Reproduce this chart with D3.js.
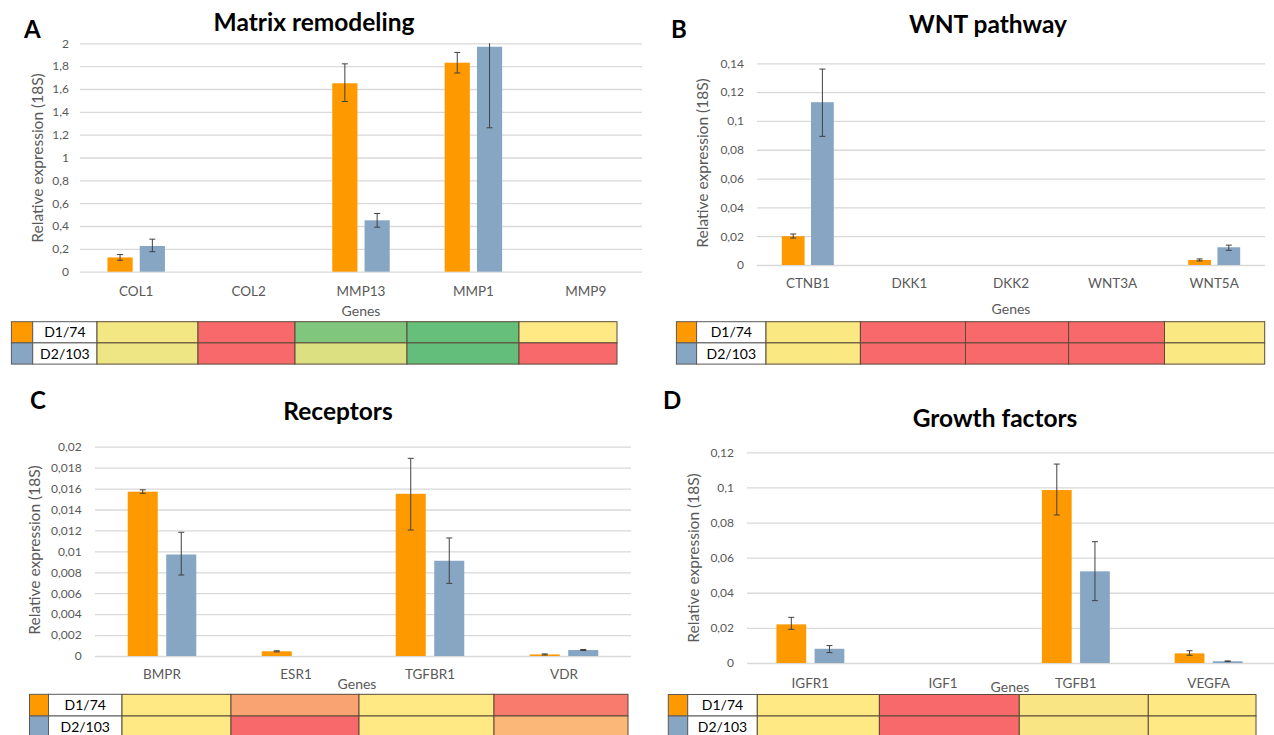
<!DOCTYPE html>
<html><head><meta charset="utf-8">
<script src="https://cdn.jsdelivr.net/npm/d3@7"></script>
<style>
body{margin:0;background:#fff}
svg{display:block}
text{font-family:Lato,"Open Sans",sans-serif}
</style>
</head><body>
<svg id="chart" width="1274" height="735"></svg>
<script>
// ---------- shared ----------
const seriesNames = ["D1/74", "D2/103"];
const seriesColors = ["#FF9900", "#87A6C3"];
const yTitleText = "Relative expression (18S)";
const xTitleText = "Genes";

// ---------- A: Matrix remodeling ----------
const titleA = "Matrix remodeling";
const genesA = ["COL1", "COL2", "MMP13", "MMP1", "MMP9"];
const d1A = [0.125, 0, 1.65, 1.83, 0];
const d2A = [0.225, 0, 0.45, 1.97, 0];
const d1ErrA = [[0.10, 0.15], null, [1.49, 1.82], [1.74, 1.92], null];
const d2ErrA = [[0.175, 0.285], null, [0.39, 0.51], [1.26, 2.02], null];
const ticksA = [0, 0.2, 0.4, 0.6, 0.8, 1, 1.2, 1.4, 1.6, 1.8, 2];
const heatA1 = ["#F2E783", "#F8696B", "#80C77D", "#66BF7A", "#FFE984"];
const heatA2 = ["#EEE584", "#F8696B", "#DCE081", "#63BE7B", "#F8696B"];

// ---------- B: WNT pathway ----------
const titleB = "WNT pathway";
const genesB = ["CTNB1", "DKK1", "DKK2", "WNT3A", "WNT5A"];
const d1B = [0.020, 0, 0, 0, 0.0035];
const d2B = [0.113, 0, 0, 0, 0.0123];
const d1ErrB = [[0.0187, 0.0215], null, null, null, [0.0028, 0.0042]];
const d2ErrB = [[0.0893, 0.136], null, null, null, [0.0102, 0.0138]];
const ticksB = [0, 0.02, 0.04, 0.06, 0.08, 0.1, 0.12, 0.14];
const heatB1 = ["#FAE983", "#F8696B", "#F8696B", "#F8696B", "#FAE983"];
const heatB2 = ["#FAE983", "#F8696B", "#F8696B", "#F8696B", "#FAE983"];

// ---------- C: Receptors ----------
const titleC = "Receptors";
const genesC = ["BMPR", "ESR1", "TGFBR1", "VDR"];
const d1C = [0.0157, 0.00045, 0.0155, 0.00015];
const d2C = [0.0097, 0, 0.0091, 0.00057];
const d1ErrC = [[0.01555, 0.01588], [0.0004, 0.0005], [0.01204, 0.01889], [0.0001, 0.0002]];
const d2ErrC = [[0.00774, 0.01182], null, [0.00694, 0.01128], [0.00052, 0.00062]];
const ticksC = [0, 0.002, 0.004, 0.006, 0.008, 0.01, 0.012, 0.014, 0.016, 0.018, 0.02];
const heatC1 = ["#FFE984", "#F9A373", "#FFE984", "#F87B6E"];
const heatC2 = ["#FFE984", "#F8696B", "#FFE984", "#FBB778"];

// ---------- D: Growth factors ----------
const titleD = "Growth factors";
const genesD = ["IGFR1", "IGF1", "TGFB1", "VEGFA"];
const d1D = [0.022, 0, 0.0985, 0.0055];
const d2D = [0.0081, 0, 0.0522, 0.001];
const d1ErrD = [[0.0192, 0.026], null, [0.0843, 0.1133], [0.0044, 0.007]];
const d2ErrD = [[0.0059, 0.0099], null, [0.0355, 0.0691], [0.0008, 0.0012]];
const ticksD = [0, 0.02, 0.04, 0.06, 0.08, 0.1, 0.12];
const heatD1 = ["#FFE984", "#F8696B", "#F9E583", "#FDE884"];
const heatD2 = ["#FFE984", "#F8696B", "#F9E583", "#FFE984"];

// ---------- layout (positions only) ----------
const layout = {
  A: {letter: "A", letterXY: [24, 29], titleXY: [314, 22], xRange: [80, 642], yRange: [271.7, 43.3],
      gridX: [80, 642], tickX: 69, yTitleXY: [37.5, 158], labelY: 291, genesXY: [361, 311],
      tableX: [11.4, 32.7, 97, 198, 295, 407, 519, 617], tableY: 321.7, rowH: 21.2},
  B: {letter: "B", letterXY: [671, 29.5], titleXY: [988, 24], xRange: [757, 1265], yRange: [265, 63.3],
      gridX: [757, 1265], tickX: 744, yTitleXY: [702.7, 163], labelY: 283.3, genesXY: [1011, 309],
      tableX: [676.4, 696.6, 766, 860.4, 965.5, 1068.6, 1164.5, 1264.7], tableY: 321.7, rowH: 21.2},
  C: {letter: "C", letterXY: [30, 400], titleXY: [338, 411.7], xRange: [95, 631], yRange: [656, 446.7],
      gridX: [95, 631], tickX: 81.6, yTitleXY: [34.7, 550], labelY: 674.3, genesXY: [357, 684],
      tableX: [29.5, 48.5, 122, 231, 359, 494, 628], tableY: 694.3, rowH: 21.7},
  D: {letter: "D", letterXY: [663, 400], titleXY: [995, 418.3], xRange: [744, 1275], yRange: [663, 452.3],
      gridX: [747, 1274], tickX: 734, yTitleXY: [693.4, 558], labelY: 683, genesXY: [1010, 687],
      tableX: [668.3, 687.7, 757.3, 879.4, 1019.3, 1148.3, 1256], tableY: 694.5, rowH: 21.5}
};

const panels = [
  {key: "A", title: titleA, genes: genesA, vals: [d1A, d2A], errs: [d1ErrA, d2ErrA], ticks: ticksA, heat: [heatA1, heatA2]},
  {key: "B", title: titleB, genes: genesB, vals: [d1B, d2B], errs: [d1ErrB, d2ErrB], ticks: ticksB, heat: [heatB1, heatB2]},
  {key: "C", title: titleC, genes: genesC, vals: [d1C, d2C], errs: [d1ErrC, d2ErrC], ticks: ticksC, heat: [heatC1, heatC2]},
  {key: "D", title: titleD, genes: genesD, vals: [d1D, d2D], errs: [d1ErrD, d2ErrD], ticks: ticksD, heat: [heatD1, heatD2]}
];

const svg = d3.select("#chart");
svg.append("rect").attr("width", 1274).attr("height", 735).attr("fill", "#fff");
const fmt = v => String(v).replace(".", ",");
const gray = "#595959";

panels.forEach((p, pi) => {
  const L = layout[p.key];
  const g = svg.append("g");
  const x = d3.scaleBand().domain(p.genes).range(L.xRange);
  const xs = d3.scaleBand().domain(seriesNames).range([0, x.bandwidth()]).paddingInner(0.22).paddingOuter(0.85);
  const y = d3.scaleLinear().domain([0, d3.max(p.ticks)]).range(L.yRange);

  // gridlines + tick labels via axis
  const yAxis = d3.axisLeft(y).tickValues(p.ticks).tickFormat(fmt)
    .tickSize(-(L.gridX[1] - L.gridX[0])).tickPadding(L.gridX[0] - L.tickX);
  const ya = g.append("g").attr("transform", `translate(${L.gridX[0]},0)`).call(yAxis);
  ya.select(".domain").remove();
  ya.selectAll(".tick line").attr("stroke", "#D9D9D9").attr("stroke-width", 1.3);
  ya.selectAll(".tick text").attr("fill", gray).attr("font-size", 12).attr("font-family", "Lato");

  // clip for bars / error bars
  const clipId = "clip" + p.key;
  svg.append("clipPath").attr("id", clipId).append("rect")
    .attr("x", L.gridX[0]).attr("y", L.yRange[1]).attr("width", L.gridX[1] - L.gridX[0]).attr("height", L.yRange[0] - L.yRange[1] + 1);
  const plot = g.append("g").attr("clip-path", `url(#${clipId})`);

  seriesNames.forEach((s, si) => {
    const rows = p.genes.map((gene, i) => ({gene, v: p.vals[si][i], e: p.errs[si][i]}));
    plot.append("g").selectAll("rect").data(rows.filter(d => d.v > 0)).join("rect")
      .attr("x", d => x(d.gene) + xs(s))
      .attr("width", xs.bandwidth())
      .attr("y", d => y(d.v))
      .attr("height", d => y(0) - y(d.v))
      .attr("fill", seriesColors[si]);
    const eb = plot.append("g").attr("stroke", "#404040").attr("stroke-width", 1)
      .selectAll("g").data(rows.filter(d => d.e)).join("g")
      .attr("transform", d => `translate(${x(d.gene) + xs(s) + xs.bandwidth() / 2},0)`);
    eb.append("line").attr("x1", 0).attr("x2", 0).attr("y1", d => y(d.e[0])).attr("y2", d => y(d.e[1]));
    eb.append("line").attr("x1", -3).attr("x2", 3).attr("y1", d => y(d.e[0])).attr("y2", d => y(d.e[0]));
    eb.append("line").attr("x1", -3).attr("x2", 3).attr("y1", d => y(d.e[1])).attr("y2", d => y(d.e[1]));
  });

  // category labels via axis
  const fs = 13.5;
  const xAxis = d3.axisBottom(x).tickSize(0).tickPadding(L.labelY - y(0) - 0.36 * fs);
  const xa = g.append("g").attr("transform", `translate(0,${y(0)})`).call(xAxis);
  xa.select(".domain").remove();
  xa.selectAll(".tick text").attr("fill", gray).attr("font-size", fs).attr("font-family", "Lato");

  // titles
  g.append("text").attr("x", L.titleXY[0]).attr("y", L.titleXY[1]).attr("dy", "0.35em")
    .attr("text-anchor", "middle").attr("font-weight", "bold").attr("font-size", 24.5).attr("fill", "#000").text(p.title);
  g.append("text").attr("x", L.letterXY[0]).attr("y", L.letterXY[1]).attr("dy", "0.36em")
    .attr("font-weight", "bold").attr("font-size", 24).attr("fill", "#000").text(L.letter);
  g.append("text").attr("transform", `translate(${L.yTitleXY[0]},${L.yTitleXY[1]}) rotate(-90)`)
    .attr("dy", "0.35em").attr("text-anchor", "middle").attr("font-size", 15.5).attr("fill", gray).text(yTitleText);
  g.append("text").attr("x", L.genesXY[0]).attr("y", L.genesXY[1]).attr("dy", "0.35em")
    .attr("text-anchor", "middle").attr("font-size", 14).attr("fill", gray).text(xTitleText);

  // heat table
  const tb = g.append("g");
  const tx = L.tableX;
  seriesNames.forEach((s, si) => {
    const ty = L.tableY + si * L.rowH;
    tb.append("rect").attr("x", tx[0]).attr("y", ty).attr("width", tx[1] - tx[0]).attr("height", L.rowH)
      .attr("fill", seriesColors[si]).attr("stroke", "#5a5a5a").attr("stroke-width", 1);
    tb.append("rect").attr("x", tx[1]).attr("y", ty).attr("width", tx[2] - tx[1]).attr("height", L.rowH)
      .attr("fill", "#fff").attr("stroke", "#5a5a5a").attr("stroke-width", 1);
    tb.append("text").attr("x", (tx[1] + tx[2]) / 2).attr("y", ty + L.rowH / 2).attr("dy", "0.36em")
      .attr("text-anchor", "middle").attr("font-size", 14).attr("fill", "#000").text(s);
    tb.append("g").selectAll("rect").data(p.heat[si]).join("rect")
      .attr("x", (d, i) => tx[i + 2]).attr("y", ty)
      .attr("width", (d, i) => tx[i + 3] - tx[i + 2]).attr("height", L.rowH)
      .attr("fill", d => d).attr("stroke", "#5a4a3a").attr("stroke-width", 1);
  });
});
</script>
</body></html>
